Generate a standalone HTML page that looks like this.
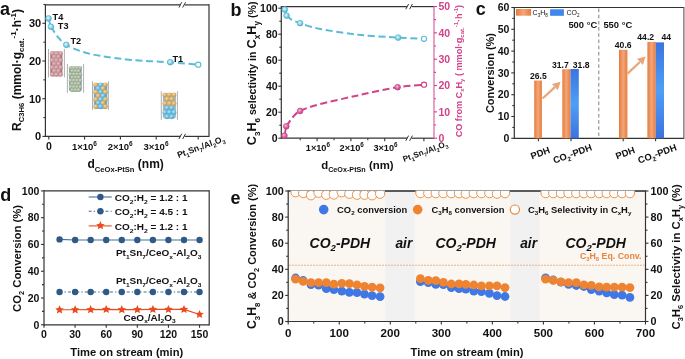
<!DOCTYPE html><html><head><meta charset="utf-8"><style>html,body{margin:0;padding:0;background:#fff;width:685px;height:359px;overflow:hidden}svg{display:block;will-change:transform}text{font-family:"Liberation Sans", sans-serif}</style></head><body>
<svg width="685" height="359" viewBox="0 0 685 359">
<defs>
<radialGradient id="gBlueA" cx="0.42" cy="0.4" r="0.62"><stop offset="0" stop-color="#e2f5fb"/><stop offset="0.5" stop-color="#98d6e9"/><stop offset="0.85" stop-color="#5cbcd7"/><stop offset="1" stop-color="#46abcb"/></radialGradient>
<radialGradient id="gPink" cx="0.4" cy="0.38" r="0.65"><stop offset="0" stop-color="#f4c4da"/><stop offset="0.5" stop-color="#dc6aa4"/><stop offset="1" stop-color="#c83d86"/></radialGradient>
<radialGradient id="bPink" cx="0.4" cy="0.35" r="0.7"><stop offset="0" stop-color="#e6c0c2"/><stop offset="0.6" stop-color="#cc979c"/><stop offset="1" stop-color="#b0808a"/></radialGradient>
<radialGradient id="bGreen" cx="0.4" cy="0.35" r="0.7"><stop offset="0" stop-color="#d6dcc4"/><stop offset="0.6" stop-color="#aab897"/><stop offset="1" stop-color="#7f9c9c"/></radialGradient>
<radialGradient id="bBlue" cx="0.4" cy="0.35" r="0.7"><stop offset="0" stop-color="#bfe6f8"/><stop offset="0.55" stop-color="#66bde6"/><stop offset="1" stop-color="#3e9fd0"/></radialGradient>
<radialGradient id="bOr" cx="0.4" cy="0.35" r="0.7"><stop offset="0" stop-color="#f4d7a4"/><stop offset="0.55" stop-color="#dcae68"/><stop offset="1" stop-color="#c18d45"/></radialGradient>
<linearGradient id="gBarO" x1="0" y1="0" x2="1" y2="0"><stop offset="0" stop-color="#e97c3a"/><stop offset="0.5" stop-color="#f1a67a"/><stop offset="1" stop-color="#e97c3a"/></linearGradient>
<linearGradient id="gBarB" x1="0" y1="0" x2="0" y2="1"><stop offset="0" stop-color="#3a74e0"/><stop offset="0.5" stop-color="#4f9ff6"/><stop offset="1" stop-color="#3a72e0"/></linearGradient>
<clipPath id="clipE"><rect x="288.8" y="191.0" width="356.2" height="130"/></clipPath>
</defs>
<line x1="45.4" y1="4.9" x2="180.3" y2="4.9" stroke="#333333" stroke-width="1.2" />
<line x1="184.7" y1="4.9" x2="209" y2="4.9" stroke="#333333" stroke-width="1.2" />
<line x1="45.4" y1="136.4" x2="180.3" y2="136.4" stroke="#333333" stroke-width="1.2" />
<line x1="184.7" y1="136.4" x2="209" y2="136.4" stroke="#333333" stroke-width="1.2" />
<line x1="45.4" y1="4.3" x2="45.4" y2="137" stroke="#333333" stroke-width="1.2" />
<line x1="209" y1="4.3" x2="209" y2="137" stroke="#333333" stroke-width="1.2" />
<line x1="178.9" y1="7.5" x2="181.7" y2="2.3" stroke="#333333" stroke-width="1" />
<line x1="182.7" y1="7.5" x2="185.5" y2="2.3" stroke="#333333" stroke-width="1" />
<line x1="178.9" y1="139" x2="181.7" y2="133.8" stroke="#333333" stroke-width="1" />
<line x1="182.7" y1="139" x2="185.5" y2="133.8" stroke="#333333" stroke-width="1" />
<line x1="42.4" y1="136.4" x2="45.4" y2="136.4" stroke="#333333" stroke-width="1.1" />
<line x1="43.4" y1="117.55" x2="45.4" y2="117.55" stroke="#333333" stroke-width="1.1" />
<line x1="42.4" y1="98.7" x2="45.4" y2="98.7" stroke="#333333" stroke-width="1.1" />
<line x1="43.4" y1="79.85" x2="45.4" y2="79.85" stroke="#333333" stroke-width="1.1" />
<line x1="42.4" y1="61" x2="45.4" y2="61" stroke="#333333" stroke-width="1.1" />
<line x1="43.4" y1="42.15" x2="45.4" y2="42.15" stroke="#333333" stroke-width="1.1" />
<line x1="42.4" y1="23.3" x2="45.4" y2="23.3" stroke="#333333" stroke-width="1.1" />
<line x1="43.4" y1="4.45" x2="45.4" y2="4.45" stroke="#333333" stroke-width="1.1" />
<text x="41.2" y="140.2" font-size="11" text-anchor="end" fill="#111111" font-weight="bold" style="" >0</text>
<text x="41.2" y="102.5" font-size="11" text-anchor="end" fill="#111111" font-weight="bold" style="" >10</text>
<text x="41.2" y="64.8" font-size="11" text-anchor="end" fill="#111111" font-weight="bold" style="" >20</text>
<text x="41.2" y="27.1" font-size="11" text-anchor="end" fill="#111111" font-weight="bold" style="" >30</text>
<line x1="48.8" y1="136.4" x2="48.8" y2="139.4" stroke="#333333" stroke-width="1.1" />
<line x1="84.6" y1="136.4" x2="84.6" y2="139.4" stroke="#333333" stroke-width="1.1" />
<line x1="120.4" y1="136.4" x2="120.4" y2="139.4" stroke="#333333" stroke-width="1.1" />
<line x1="156.2" y1="136.4" x2="156.2" y2="139.4" stroke="#333333" stroke-width="1.1" />
<line x1="198.2" y1="136.4" x2="198.2" y2="139.4" stroke="#333333" stroke-width="1.1" />
<text x="48.8" y="150" font-size="10.5" text-anchor="middle" fill="#111111" font-weight="bold" style="" >0</text>
<text x="84.4" y="150" font-size="9.5" text-anchor="middle" fill="#111111" font-weight="bold">1×10<tspan font-size="6.5" dy="-4">6</tspan></text>
<text x="120.2" y="150" font-size="9.5" text-anchor="middle" fill="#111111" font-weight="bold">2×10<tspan font-size="6.5" dy="-4">6</tspan></text>
<text x="156" y="150" font-size="9.5" text-anchor="middle" fill="#111111" font-weight="bold">3×10<tspan font-size="6.5" dy="-4">6</tspan></text>
<text x="0" y="0" transform="translate(178.4 158.1) rotate(-20)" font-size="8.6" text-anchor="start" fill="#111111" font-weight="bold" style=""><tspan font-size="8.6" dy="0">Pt</tspan><tspan font-size="5.68" dy="2.41">1</tspan><tspan font-size="8.6" dy="-2.41">Sn</tspan><tspan font-size="5.68" dy="2.41">7</tspan><tspan font-size="8.6" dy="-2.41">/Al</tspan><tspan font-size="5.68" dy="2.41">2</tspan><tspan font-size="8.6" dy="-2.41">O</tspan><tspan font-size="5.68" dy="2.41">3</tspan></text>
<text x="0" y="0" transform="translate(87.5 168.2)" font-size="12" text-anchor="start" fill="#111111" font-weight="bold" style=""><tspan font-size="12" dy="0">d</tspan><tspan font-size="7.6" dy="3.36">CeOx-PtSn</tspan><tspan font-size="12" dy="-3.36"> (nm)</tspan></text>
<text x="0" y="0" transform="translate(21 131) rotate(-90)" font-size="12" text-anchor="start" fill="#111111" font-weight="bold" style=""><tspan font-size="12" dy="0">R</tspan><tspan font-size="7.7" dy="3.36">C3H6</tspan><tspan font-size="12" dy="-3.36"> (mmol·g</tspan><tspan font-size="7.92" dy="3.36">cat.</tspan><tspan font-size="7.92" dy="-7.92">-1</tspan><tspan font-size="12" dy="4.56">·h</tspan><tspan font-size="7.92" dy="-4.56">-1</tspan><tspan font-size="12" dy="4.56">)</tspan></text>
<text x="0" y="15" font-size="18" text-anchor="start" fill="#111111" font-weight="bold" style="" >a</text>
<line x1="48.5" y1="49" x2="48.5" y2="77.4" stroke="#9a9a9a" stroke-width="0.8" />
<line x1="64.4" y1="49" x2="64.4" y2="77.4" stroke="#9a9a9a" stroke-width="0.8" />
<rect x="50.3" y="51.5" width="12.1" height="24.8" rx="2.3" fill="#a4747c"/>
<circle cx="52.1" cy="53.3" r="2.3" fill="url(#bPink)" stroke="none" stroke-width="0" />
<circle cx="56.35" cy="53.3" r="2.3" fill="url(#bPink)" stroke="none" stroke-width="0" />
<circle cx="60.6" cy="53.3" r="2.3" fill="url(#bPink)" stroke="none" stroke-width="0" />
<circle cx="54.22" cy="56.83" r="2.3" fill="url(#bPink)" stroke="none" stroke-width="0" />
<circle cx="58.47" cy="56.83" r="2.3" fill="url(#bPink)" stroke="none" stroke-width="0" />
<circle cx="52.1" cy="60.37" r="2.3" fill="url(#bPink)" stroke="none" stroke-width="0" />
<circle cx="56.35" cy="60.37" r="2.3" fill="url(#bPink)" stroke="none" stroke-width="0" />
<circle cx="60.6" cy="60.37" r="2.3" fill="url(#bPink)" stroke="none" stroke-width="0" />
<circle cx="54.22" cy="63.9" r="2.3" fill="url(#bPink)" stroke="none" stroke-width="0" />
<circle cx="58.47" cy="63.9" r="2.3" fill="url(#bPink)" stroke="none" stroke-width="0" />
<circle cx="52.1" cy="67.43" r="2.3" fill="url(#bPink)" stroke="none" stroke-width="0" />
<circle cx="56.35" cy="67.43" r="2.3" fill="url(#bPink)" stroke="none" stroke-width="0" />
<circle cx="60.6" cy="67.43" r="2.3" fill="url(#bPink)" stroke="none" stroke-width="0" />
<circle cx="54.22" cy="70.97" r="2.3" fill="url(#bPink)" stroke="none" stroke-width="0" />
<circle cx="58.47" cy="70.97" r="2.3" fill="url(#bPink)" stroke="none" stroke-width="0" />
<circle cx="52.1" cy="74.5" r="2.3" fill="url(#bPink)" stroke="none" stroke-width="0" />
<circle cx="56.35" cy="74.5" r="2.3" fill="url(#bPink)" stroke="none" stroke-width="0" />
<circle cx="60.6" cy="74.5" r="2.3" fill="url(#bPink)" stroke="none" stroke-width="0" />
<line x1="67.4" y1="64" x2="67.4" y2="92.8" stroke="#9a9a9a" stroke-width="0.8" />
<line x1="83.6" y1="64" x2="83.6" y2="92.8" stroke="#9a9a9a" stroke-width="0.8" />
<rect x="69.1" y="66.4" width="12.6" height="25" rx="1.9" fill="#7d9fae"/>
<circle cx="70.5" cy="67.8" r="1.9" fill="url(#bGreen)" stroke="none" stroke-width="0" />
<circle cx="73.77" cy="67.8" r="1.9" fill="url(#bGreen)" stroke="none" stroke-width="0" />
<circle cx="77.03" cy="67.8" r="1.9" fill="url(#bGreen)" stroke="none" stroke-width="0" />
<circle cx="80.3" cy="67.8" r="1.9" fill="url(#bGreen)" stroke="none" stroke-width="0" />
<circle cx="72.13" cy="70.97" r="1.9" fill="url(#bGreen)" stroke="none" stroke-width="0" />
<circle cx="75.4" cy="70.97" r="1.9" fill="url(#bGreen)" stroke="none" stroke-width="0" />
<circle cx="78.67" cy="70.97" r="1.9" fill="url(#bGreen)" stroke="none" stroke-width="0" />
<circle cx="70.5" cy="74.14" r="1.9" fill="url(#bGreen)" stroke="none" stroke-width="0" />
<circle cx="73.77" cy="74.14" r="1.9" fill="url(#bGreen)" stroke="none" stroke-width="0" />
<circle cx="77.03" cy="74.14" r="1.9" fill="url(#bGreen)" stroke="none" stroke-width="0" />
<circle cx="80.3" cy="74.14" r="1.9" fill="url(#bGreen)" stroke="none" stroke-width="0" />
<circle cx="72.13" cy="77.31" r="1.9" fill="url(#bGreen)" stroke="none" stroke-width="0" />
<circle cx="75.4" cy="77.31" r="1.9" fill="url(#bGreen)" stroke="none" stroke-width="0" />
<circle cx="78.67" cy="77.31" r="1.9" fill="url(#bGreen)" stroke="none" stroke-width="0" />
<circle cx="70.5" cy="80.49" r="1.9" fill="url(#bGreen)" stroke="none" stroke-width="0" />
<circle cx="73.77" cy="80.49" r="1.9" fill="url(#bGreen)" stroke="none" stroke-width="0" />
<circle cx="77.03" cy="80.49" r="1.9" fill="url(#bGreen)" stroke="none" stroke-width="0" />
<circle cx="80.3" cy="80.49" r="1.9" fill="url(#bGreen)" stroke="none" stroke-width="0" />
<circle cx="72.13" cy="83.66" r="1.9" fill="url(#bGreen)" stroke="none" stroke-width="0" />
<circle cx="75.4" cy="83.66" r="1.9" fill="url(#bGreen)" stroke="none" stroke-width="0" />
<circle cx="78.67" cy="83.66" r="1.9" fill="url(#bGreen)" stroke="none" stroke-width="0" />
<circle cx="70.5" cy="86.83" r="1.9" fill="url(#bGreen)" stroke="none" stroke-width="0" />
<circle cx="73.77" cy="86.83" r="1.9" fill="url(#bGreen)" stroke="none" stroke-width="0" />
<circle cx="77.03" cy="86.83" r="1.9" fill="url(#bGreen)" stroke="none" stroke-width="0" />
<circle cx="80.3" cy="86.83" r="1.9" fill="url(#bGreen)" stroke="none" stroke-width="0" />
<circle cx="72.13" cy="90" r="1.9" fill="url(#bGreen)" stroke="none" stroke-width="0" />
<circle cx="75.4" cy="90" r="1.9" fill="url(#bGreen)" stroke="none" stroke-width="0" />
<circle cx="78.67" cy="90" r="1.9" fill="url(#bGreen)" stroke="none" stroke-width="0" />
<line x1="92.5" y1="81.3" x2="92.5" y2="109.8" stroke="#9a9a9a" stroke-width="0.8" />
<line x1="108.4" y1="81.3" x2="108.4" y2="109.8" stroke="#9a9a9a" stroke-width="0.8" />
<rect x="93.8" y="82.9" width="13.5" height="25.8" rx="2.45" fill="#6aa9c8"/>
<circle cx="95.75" cy="84.85" r="2.45" fill="url(#bOr)" stroke="none" stroke-width="0" />
<circle cx="100.55" cy="84.85" r="2.45" fill="url(#bBlue)" stroke="none" stroke-width="0" />
<circle cx="105.35" cy="84.85" r="2.45" fill="url(#bOr)" stroke="none" stroke-width="0" />
<circle cx="98.15" cy="88.5" r="2.45" fill="url(#bBlue)" stroke="none" stroke-width="0" />
<circle cx="102.95" cy="88.5" r="2.45" fill="url(#bOr)" stroke="none" stroke-width="0" />
<circle cx="95.75" cy="92.15" r="2.45" fill="url(#bOr)" stroke="none" stroke-width="0" />
<circle cx="100.55" cy="92.15" r="2.45" fill="url(#bBlue)" stroke="none" stroke-width="0" />
<circle cx="105.35" cy="92.15" r="2.45" fill="url(#bOr)" stroke="none" stroke-width="0" />
<circle cx="98.15" cy="95.8" r="2.45" fill="url(#bOr)" stroke="none" stroke-width="0" />
<circle cx="102.95" cy="95.8" r="2.45" fill="url(#bBlue)" stroke="none" stroke-width="0" />
<circle cx="95.75" cy="99.45" r="2.45" fill="url(#bOr)" stroke="none" stroke-width="0" />
<circle cx="100.55" cy="99.45" r="2.45" fill="url(#bBlue)" stroke="none" stroke-width="0" />
<circle cx="105.35" cy="99.45" r="2.45" fill="url(#bOr)" stroke="none" stroke-width="0" />
<circle cx="98.15" cy="103.1" r="2.45" fill="url(#bBlue)" stroke="none" stroke-width="0" />
<circle cx="102.95" cy="103.1" r="2.45" fill="url(#bOr)" stroke="none" stroke-width="0" />
<circle cx="95.75" cy="106.75" r="2.45" fill="url(#bOr)" stroke="none" stroke-width="0" />
<circle cx="100.55" cy="106.75" r="2.45" fill="url(#bBlue)" stroke="none" stroke-width="0" />
<circle cx="105.35" cy="106.75" r="2.45" fill="url(#bOr)" stroke="none" stroke-width="0" />
<line x1="161.3" y1="91.3" x2="161.3" y2="119.9" stroke="#9a9a9a" stroke-width="0.8" />
<line x1="177.4" y1="91.3" x2="177.4" y2="119.9" stroke="#9a9a9a" stroke-width="0.8" />
<rect x="162.9" y="92.9" width="13" height="25.8" rx="2.4" fill="#9fb8b8"/>
<circle cx="164.8" cy="94.8" r="2.4" fill="url(#bOr)" stroke="none" stroke-width="0" />
<circle cx="169.4" cy="94.8" r="2.4" fill="url(#bOr)" stroke="none" stroke-width="0" />
<circle cx="174" cy="94.8" r="2.4" fill="url(#bOr)" stroke="none" stroke-width="0" />
<circle cx="167.1" cy="99.2" r="2.4" fill="url(#bOr)" stroke="none" stroke-width="0" />
<circle cx="171.7" cy="99.2" r="2.4" fill="url(#bOr)" stroke="none" stroke-width="0" />
<circle cx="164.8" cy="103.6" r="2.4" fill="url(#bOr)" stroke="none" stroke-width="0" />
<circle cx="169.4" cy="103.6" r="2.4" fill="url(#bOr)" stroke="none" stroke-width="0" />
<circle cx="174" cy="103.6" r="2.4" fill="url(#bOr)" stroke="none" stroke-width="0" />
<circle cx="167.1" cy="108" r="2.4" fill="url(#bBlue)" stroke="none" stroke-width="0" />
<circle cx="171.7" cy="108" r="2.4" fill="url(#bBlue)" stroke="none" stroke-width="0" />
<circle cx="164.8" cy="112.4" r="2.4" fill="url(#bBlue)" stroke="none" stroke-width="0" />
<circle cx="169.4" cy="112.4" r="2.4" fill="url(#bBlue)" stroke="none" stroke-width="0" />
<circle cx="174" cy="112.4" r="2.4" fill="url(#bBlue)" stroke="none" stroke-width="0" />
<circle cx="167.1" cy="116.8" r="2.4" fill="url(#bBlue)" stroke="none" stroke-width="0" />
<circle cx="171.7" cy="116.8" r="2.4" fill="url(#bBlue)" stroke="none" stroke-width="0" />
<path d="M50.9,26.7 C52.08,28.45 55.43,34.18 58,37.2 C60.57,40.22 62.3,42.4 66.3,44.8 C70.3,47.2 76.38,49.77 82,51.6 C87.62,53.43 91.57,54.4 100,55.8 C108.43,57.2 120.9,58.92 132.6,60 C144.3,61.08 159.27,61.52 170.2,62.3 C181.13,63.08 193.53,64.3 198.2,64.7" fill="none" stroke="#5bbcd6" stroke-width="2" stroke-dasharray="7 3.6"/>
<line x1="48.5" y1="18.4" x2="50.9" y2="26.7" stroke="#5bbcd6" stroke-width="1.8" />
<circle cx="48.5" cy="18.4" r="2.9" fill="url(#gBlueA)" stroke="#4fb0cf" stroke-width="0.6" />
<circle cx="50.9" cy="26.7" r="2.9" fill="url(#gBlueA)" stroke="#4fb0cf" stroke-width="0.6" />
<circle cx="66.3" cy="44.8" r="2.9" fill="url(#gBlueA)" stroke="#4fb0cf" stroke-width="0.6" />
<circle cx="170.2" cy="62.2" r="2.9" fill="url(#gBlueA)" stroke="#4fb0cf" stroke-width="0.6" />
<circle cx="198.2" cy="64.7" r="2.6" fill="#ffffff" stroke="#5bbcd6" stroke-width="1.1" />
<text x="52.6" y="20" font-size="9.2" text-anchor="start" fill="#111111" font-weight="bold" style="" >T4</text>
<text x="57.8" y="28.6" font-size="9.2" text-anchor="start" fill="#111111" font-weight="bold" style="" >T3</text>
<text x="70.4" y="44" font-size="9.2" text-anchor="start" fill="#111111" font-weight="bold" style="" >T2</text>
<text x="172.4" y="61.6" font-size="9.2" text-anchor="start" fill="#111111" font-weight="bold" style="" >T1</text>
<line x1="281.3" y1="6.6" x2="407.2" y2="6.6" stroke="#333333" stroke-width="1.2" />
<line x1="411.6" y1="6.6" x2="434" y2="6.6" stroke="#333333" stroke-width="1.2" />
<line x1="281.3" y1="138.2" x2="407.2" y2="138.2" stroke="#333333" stroke-width="1.2" />
<line x1="411.6" y1="138.2" x2="434" y2="138.2" stroke="#333333" stroke-width="1.2" />
<line x1="281.3" y1="6" x2="281.3" y2="138.8" stroke="#333333" stroke-width="1.2" />
<line x1="434" y1="6.6" x2="434" y2="138.8" stroke="#d763a0" stroke-width="1.2" />
<line x1="405.8" y1="9.2" x2="408.6" y2="4" stroke="#333333" stroke-width="1" />
<line x1="409.6" y1="9.2" x2="412.4" y2="4" stroke="#333333" stroke-width="1" />
<line x1="405.8" y1="140.8" x2="408.6" y2="135.6" stroke="#333333" stroke-width="1" />
<line x1="409.6" y1="140.8" x2="412.4" y2="135.6" stroke="#333333" stroke-width="1" />
<line x1="278.3" y1="138.2" x2="281.3" y2="138.2" stroke="#333333" stroke-width="1.1" />
<line x1="279.3" y1="125.2" x2="281.3" y2="125.2" stroke="#333333" stroke-width="1.1" />
<line x1="278.3" y1="112.2" x2="281.3" y2="112.2" stroke="#333333" stroke-width="1.1" />
<line x1="279.3" y1="99.2" x2="281.3" y2="99.2" stroke="#333333" stroke-width="1.1" />
<line x1="278.3" y1="86.2" x2="281.3" y2="86.2" stroke="#333333" stroke-width="1.1" />
<line x1="279.3" y1="73.2" x2="281.3" y2="73.2" stroke="#333333" stroke-width="1.1" />
<line x1="278.3" y1="60.2" x2="281.3" y2="60.2" stroke="#333333" stroke-width="1.1" />
<line x1="279.3" y1="47.2" x2="281.3" y2="47.2" stroke="#333333" stroke-width="1.1" />
<line x1="278.3" y1="34.2" x2="281.3" y2="34.2" stroke="#333333" stroke-width="1.1" />
<line x1="279.3" y1="21.2" x2="281.3" y2="21.2" stroke="#333333" stroke-width="1.1" />
<line x1="278.3" y1="8.2" x2="281.3" y2="8.2" stroke="#333333" stroke-width="1.1" />
<text x="277.6" y="141.9" font-size="10.5" text-anchor="end" fill="#111111" font-weight="bold" style="" >0</text>
<text x="277.6" y="115.9" font-size="10.5" text-anchor="end" fill="#111111" font-weight="bold" style="" >20</text>
<text x="277.6" y="89.9" font-size="10.5" text-anchor="end" fill="#111111" font-weight="bold" style="" >40</text>
<text x="277.6" y="63.9" font-size="10.5" text-anchor="end" fill="#111111" font-weight="bold" style="" >60</text>
<text x="277.6" y="37.9" font-size="10.5" text-anchor="end" fill="#111111" font-weight="bold" style="" >80</text>
<text x="277.6" y="11.9" font-size="10.5" text-anchor="end" fill="#111111" font-weight="bold" style="" >100</text>
<line x1="434" y1="138.2" x2="437" y2="138.2" stroke="#d2418a" stroke-width="1.1" />
<line x1="434" y1="125.03" x2="436" y2="125.03" stroke="#d2418a" stroke-width="1.1" />
<line x1="434" y1="111.86" x2="437" y2="111.86" stroke="#d2418a" stroke-width="1.1" />
<line x1="434" y1="98.69" x2="436" y2="98.69" stroke="#d2418a" stroke-width="1.1" />
<line x1="434" y1="85.52" x2="437" y2="85.52" stroke="#d2418a" stroke-width="1.1" />
<line x1="434" y1="72.35" x2="436" y2="72.35" stroke="#d2418a" stroke-width="1.1" />
<line x1="434" y1="59.18" x2="437" y2="59.18" stroke="#d2418a" stroke-width="1.1" />
<line x1="434" y1="46.01" x2="436" y2="46.01" stroke="#d2418a" stroke-width="1.1" />
<line x1="434" y1="32.84" x2="437" y2="32.84" stroke="#d2418a" stroke-width="1.1" />
<line x1="434" y1="19.67" x2="436" y2="19.67" stroke="#d2418a" stroke-width="1.1" />
<line x1="434" y1="6.5" x2="437" y2="6.5" stroke="#d2418a" stroke-width="1.1" />
<text x="438.4" y="141.9" font-size="10.5" text-anchor="start" fill="#d2418a" font-weight="bold" style="" >0</text>
<text x="438.4" y="115.56" font-size="10.5" text-anchor="start" fill="#d2418a" font-weight="bold" style="" >10</text>
<text x="438.4" y="89.22" font-size="10.5" text-anchor="start" fill="#d2418a" font-weight="bold" style="" >20</text>
<text x="438.4" y="62.88" font-size="10.5" text-anchor="start" fill="#d2418a" font-weight="bold" style="" >30</text>
<text x="438.4" y="36.54" font-size="10.5" text-anchor="start" fill="#d2418a" font-weight="bold" style="" >40</text>
<text x="438.4" y="10.2" font-size="10.5" text-anchor="start" fill="#d2418a" font-weight="bold" style="" >50</text>
<line x1="317.1" y1="138.2" x2="317.1" y2="141.2" stroke="#333333" stroke-width="1.1" />
<line x1="350.9" y1="138.2" x2="350.9" y2="141.2" stroke="#333333" stroke-width="1.1" />
<line x1="384.7" y1="138.2" x2="384.7" y2="141.2" stroke="#333333" stroke-width="1.1" />
<line x1="300.2" y1="138.2" x2="300.2" y2="140.2" stroke="#333333" stroke-width="1.1" />
<line x1="334" y1="138.2" x2="334" y2="140.2" stroke="#333333" stroke-width="1.1" />
<line x1="367.8" y1="138.2" x2="367.8" y2="140.2" stroke="#333333" stroke-width="1.1" />
<line x1="423.9" y1="138.2" x2="423.9" y2="141.2" stroke="#333333" stroke-width="1.1" />
<text x="317.9" y="151.0" font-size="9.2" text-anchor="middle" fill="#111111" font-weight="bold">1×10<tspan font-size="6.3" dy="-4">6</tspan></text>
<text x="351.7" y="151.0" font-size="9.2" text-anchor="middle" fill="#111111" font-weight="bold">2×10<tspan font-size="6.3" dy="-4">6</tspan></text>
<text x="385.5" y="151.0" font-size="9.2" text-anchor="middle" fill="#111111" font-weight="bold">3×10<tspan font-size="6.3" dy="-4">6</tspan></text>
<text x="0" y="0" transform="translate(404 162) rotate(-20)" font-size="8.1" text-anchor="start" fill="#111111" font-weight="bold" style=""><tspan font-size="8.1" dy="0">Pt</tspan><tspan font-size="5.35" dy="2.27">1</tspan><tspan font-size="8.1" dy="-2.27">Sn</tspan><tspan font-size="5.35" dy="2.27">7</tspan><tspan font-size="8.1" dy="-2.27">/Al</tspan><tspan font-size="5.35" dy="2.27">2</tspan><tspan font-size="8.1" dy="-2.27">O</tspan><tspan font-size="5.35" dy="2.27">3</tspan></text>
<text x="0" y="0" transform="translate(321.2 168.5)" font-size="11.4" text-anchor="start" fill="#111111" font-weight="bold" style=""><tspan font-size="11.4" dy="0">d</tspan><tspan font-size="7.2" dy="3.19">CeOx-PtSn</tspan><tspan font-size="11.4" dy="-3.19"> (nm)</tspan></text>
<text x="0" y="0" transform="translate(255.8 145.2) rotate(-90)" font-size="10.6" text-anchor="start" fill="#111111" font-weight="bold" style=""><tspan font-size="12.6" dy="0">C</tspan><tspan font-size="8.06" dy="3.78">3</tspan><tspan font-size="12.6" dy="-3.78">H</tspan><tspan font-size="8.06" dy="3.78">6</tspan><tspan font-size="10.6" dy="-3.78"> selectivity in </tspan><tspan font-size="12.8" dy="0">C</tspan><tspan font-size="8.19" dy="3.84">x</tspan><tspan font-size="12.8" dy="-3.84">H</tspan><tspan font-size="8.19" dy="3.84">y</tspan><tspan font-size="10.6" dy="-3.84"> (%)</tspan></text>
<text x="0" y="0" transform="translate(461.7 137.3) rotate(-90)" font-size="9.1" text-anchor="start" fill="#d2418a" font-weight="bold" style=""><tspan font-size="9.1" dy="0">CO from C</tspan><tspan font-size="6.01" dy="2.55">x</tspan><tspan font-size="9.1" dy="-2.55">H</tspan><tspan font-size="6.01" dy="2.55">y</tspan><tspan font-size="9.1" dy="-2.55"> ( mmol·g</tspan><tspan font-size="6.01" dy="2.55">cat.</tspan><tspan font-size="6.01" dy="-6.01">-1</tspan><tspan font-size="9.1" dy="3.46">·h</tspan><tspan font-size="6.01" dy="-3.46">-1</tspan><tspan font-size="9.1" dy="3.46">)</tspan></text>
<text x="230.6" y="15.5" font-size="18" text-anchor="start" fill="#111111" font-weight="bold" style="" >b</text>
<path d="M286.5,15.6 C287.42,16.3 289.73,18.53 292,19.8 C294.27,21.07 295.6,21.72 300.1,23.2 C304.6,24.68 309.35,26.78 319,28.7 C328.65,30.62 344.82,33.22 358,34.7 C371.18,36.18 387.1,36.92 398.1,37.6 C409.1,38.28 419.68,38.6 424,38.8" fill="none" stroke="#5bbcd6" stroke-width="2" stroke-dasharray="7 3.6"/>
<line x1="284.8" y1="9.5" x2="286.5" y2="15.6" stroke="#5bbcd6" stroke-width="1.8" />
<path d="M286.3,126.3 C287.42,124.75 290.7,119.55 293,117 C295.3,114.45 295.77,113.1 300.1,111 C304.43,108.9 309.35,107 319,104.4 C328.65,101.8 344.9,98.27 358,95.4 C371.1,92.53 386.6,88.98 397.6,87.2 C408.6,85.42 419.6,85.12 424,84.7" fill="none" stroke="#d2418a" stroke-width="2" stroke-dasharray="7 3.6"/>
<line x1="284.4" y1="135.7" x2="286.3" y2="126.3" stroke="#d2418a" stroke-width="1.8" />
<circle cx="284.8" cy="9.5" r="2.9" fill="url(#gBlueA)" stroke="#4fb0cf" stroke-width="0.6" />
<circle cx="286.5" cy="15.6" r="2.9" fill="url(#gBlueA)" stroke="#4fb0cf" stroke-width="0.6" />
<circle cx="300.1" cy="23.2" r="2.9" fill="url(#gBlueA)" stroke="#4fb0cf" stroke-width="0.6" />
<circle cx="398.1" cy="37.6" r="2.9" fill="url(#gBlueA)" stroke="#4fb0cf" stroke-width="0.6" />
<circle cx="424" cy="38.8" r="2.6" fill="#fff" stroke="#5bbcd6" stroke-width="1.1" />
<circle cx="284.4" cy="135.7" r="2.9" fill="url(#gPink)" stroke="#c23a80" stroke-width="0.6" />
<circle cx="286.3" cy="126.3" r="2.9" fill="url(#gPink)" stroke="#c23a80" stroke-width="0.6" />
<circle cx="300.1" cy="111" r="2.9" fill="url(#gPink)" stroke="#c23a80" stroke-width="0.6" />
<circle cx="397.6" cy="87.2" r="2.9" fill="url(#gPink)" stroke="#c23a80" stroke-width="0.6" />
<circle cx="424" cy="84.7" r="2.6" fill="#fff" stroke="#d2418a" stroke-width="1.1" />
<line x1="514.3" y1="7.5" x2="684" y2="7.5" stroke="#333333" stroke-width="1.2" />
<line x1="514.3" y1="138.3" x2="684" y2="138.3" stroke="#333333" stroke-width="1.2" />
<line x1="514.3" y1="6.9" x2="514.3" y2="138.9" stroke="#333333" stroke-width="1.2" />
<line x1="683.9" y1="6.9" x2="683.9" y2="138.9" stroke="#555" stroke-width="1.1" />
<line x1="511.3" y1="138.3" x2="514.3" y2="138.3" stroke="#333333" stroke-width="1.1" />
<line x1="512.3" y1="127.4" x2="514.3" y2="127.4" stroke="#333333" stroke-width="1.1" />
<line x1="511.3" y1="116.5" x2="514.3" y2="116.5" stroke="#333333" stroke-width="1.1" />
<line x1="512.3" y1="105.6" x2="514.3" y2="105.6" stroke="#333333" stroke-width="1.1" />
<line x1="511.3" y1="94.7" x2="514.3" y2="94.7" stroke="#333333" stroke-width="1.1" />
<line x1="512.3" y1="83.8" x2="514.3" y2="83.8" stroke="#333333" stroke-width="1.1" />
<line x1="511.3" y1="72.9" x2="514.3" y2="72.9" stroke="#333333" stroke-width="1.1" />
<line x1="512.3" y1="62" x2="514.3" y2="62" stroke="#333333" stroke-width="1.1" />
<line x1="511.3" y1="51.1" x2="514.3" y2="51.1" stroke="#333333" stroke-width="1.1" />
<line x1="512.3" y1="40.2" x2="514.3" y2="40.2" stroke="#333333" stroke-width="1.1" />
<line x1="511.3" y1="29.3" x2="514.3" y2="29.3" stroke="#333333" stroke-width="1.1" />
<line x1="512.3" y1="18.4" x2="514.3" y2="18.4" stroke="#333333" stroke-width="1.1" />
<line x1="511.3" y1="7.5" x2="514.3" y2="7.5" stroke="#333333" stroke-width="1.1" />
<text x="509.4" y="142" font-size="10.5" text-anchor="end" fill="#111111" font-weight="bold" style="" >0</text>
<text x="509.4" y="120.2" font-size="10.5" text-anchor="end" fill="#111111" font-weight="bold" style="" >10</text>
<text x="509.4" y="98.4" font-size="10.5" text-anchor="end" fill="#111111" font-weight="bold" style="" >20</text>
<text x="509.4" y="76.6" font-size="10.5" text-anchor="end" fill="#111111" font-weight="bold" style="" >30</text>
<text x="509.4" y="54.8" font-size="10.5" text-anchor="end" fill="#111111" font-weight="bold" style="" >40</text>
<text x="509.4" y="33" font-size="10.5" text-anchor="end" fill="#111111" font-weight="bold" style="" >50</text>
<text x="509.4" y="11.2" font-size="10.5" text-anchor="end" fill="#111111" font-weight="bold" style="" >60</text>
<line x1="538.4" y1="138.3" x2="538.4" y2="141.3" stroke="#333333" stroke-width="1.1" />
<line x1="571" y1="138.3" x2="571" y2="141.3" stroke="#333333" stroke-width="1.1" />
<line x1="623.2" y1="138.3" x2="623.2" y2="141.3" stroke="#333333" stroke-width="1.1" />
<line x1="655.6" y1="138.3" x2="655.6" y2="141.3" stroke="#333333" stroke-width="1.1" />
<line x1="598.8" y1="8.5" x2="598.8" y2="138.3" stroke="#808080" stroke-width="1" stroke-dasharray="3.6 2.6"/>
<rect x="534.2" y="80.53" width="7.7" height="57.77" fill="url(#gBarO)"/>
<rect x="562.3" y="69.19" width="8.2" height="69.11" fill="url(#gBarO)"/>
<rect x="570.5" y="68.98" width="8.3" height="69.32" fill="url(#gBarB)"/>
<rect x="619" y="49.79" width="8.4" height="88.51" fill="url(#gBarO)"/>
<rect x="647.4" y="41.94" width="8.4" height="96.36" fill="url(#gBarO)"/>
<rect x="655.8" y="42.38" width="8.2" height="95.92" fill="url(#gBarB)"/>
<text x="538.4" y="78.8" font-size="8.6" text-anchor="middle" fill="#111111" font-weight="bold" style="" >26.5</text>
<text x="560.4" y="67.6" font-size="8.6" text-anchor="middle" fill="#111111" font-weight="bold" style="" >31.7</text>
<text x="581.2" y="67.6" font-size="8.6" text-anchor="middle" fill="#111111" font-weight="bold" style="" >31.8</text>
<text x="623.2" y="48.2" font-size="8.6" text-anchor="middle" fill="#111111" font-weight="bold" style="" >40.6</text>
<text x="645.7" y="39.8" font-size="8.6" text-anchor="middle" fill="#111111" font-weight="bold" style="" >44.2</text>
<text x="666.2" y="40.4" font-size="8.6" text-anchor="middle" fill="#111111" font-weight="bold" style="" >44</text>
<line x1="542.6" y1="98.5" x2="554.88" y2="87.11" stroke="#e9a678" stroke-width="2.2"/>
<polygon points="560.6,81.8 557.81,90.26 551.96,83.95" fill="#e9a678"/>
<line x1="627.5" y1="73.6" x2="639.91" y2="61.94" stroke="#e9a678" stroke-width="2.2"/>
<polygon points="645.6,56.6 642.86,65.07 636.97,58.81" fill="#e9a678"/>
<rect x="516.0" y="9.0" width="15.1" height="6.7" fill="url(#gBarO)"/>
<text x="0" y="0" transform="translate(532.6 15)" font-size="7.0" text-anchor="start" fill="#111111" font-weight="normal" style=""><tspan font-size="7" dy="0">C</tspan><tspan font-size="4.62" dy="1.96">3</tspan><tspan font-size="7" dy="-1.96">H</tspan><tspan font-size="4.62" dy="1.96">8</tspan></text>
<rect x="550.1" y="9.3" width="13.8" height="6.5" fill="#3f86ee"/>
<text x="0" y="0" transform="translate(566.4 15.2)" font-size="7.0" text-anchor="start" fill="#111111" font-weight="normal" style=""><tspan font-size="7" dy="0">CO</tspan><tspan font-size="4.62" dy="1.96">2</tspan></text>
<text x="568.4" y="28.4" font-size="9.4" text-anchor="start" fill="#111111" font-weight="bold" style="" >500 °C</text>
<text x="603.4" y="28.4" font-size="9.4" text-anchor="start" fill="#111111" font-weight="bold" style="" >550 °C</text>
<text x="0" y="0" transform="translate(541.3 156) rotate(-20)" font-size="9.4" text-anchor="middle" fill="#111111" font-weight="bold" style=""><tspan font-size="9.4" dy="0">PDH</tspan></text>
<text x="0" y="0" transform="translate(573.5 156.8) rotate(-20)" font-size="9.4" text-anchor="middle" fill="#111111" font-weight="bold" style=""><tspan font-size="9.4" dy="0">CO</tspan><tspan font-size="6.2" dy="2.63">2</tspan><tspan font-size="9.4" dy="-2.63">-PDH</tspan></text>
<text x="0" y="0" transform="translate(626.3 156) rotate(-20)" font-size="9.4" text-anchor="middle" fill="#111111" font-weight="bold" style=""><tspan font-size="9.4" dy="0">PDH</tspan></text>
<text x="0" y="0" transform="translate(658.3 156.8) rotate(-20)" font-size="9.4" text-anchor="middle" fill="#111111" font-weight="bold" style=""><tspan font-size="9.4" dy="0">CO</tspan><tspan font-size="6.2" dy="2.63">2</tspan><tspan font-size="9.4" dy="-2.63">-PDH</tspan></text>
<text x="0" y="0" transform="translate(494.2 113) rotate(-90)" font-size="10.9" text-anchor="start" fill="#111111" font-weight="bold" style=""><tspan font-size="10.9" dy="0">Conversion (%)</tspan></text>
<text x="475.8" y="15" font-size="18" text-anchor="start" fill="#111111" font-weight="bold" style="" >c</text>
<line x1="44" y1="190.9" x2="209.2" y2="190.9" stroke="#333333" stroke-width="1.2" />
<line x1="44" y1="324.8" x2="209.2" y2="324.8" stroke="#333333" stroke-width="1.2" />
<line x1="44" y1="190.3" x2="44" y2="325.4" stroke="#333333" stroke-width="1.2" />
<line x1="209.2" y1="190.3" x2="209.2" y2="325.4" stroke="#333333" stroke-width="1.2" />
<line x1="41" y1="324.8" x2="44" y2="324.8" stroke="#333333" stroke-width="1.1" />
<line x1="42" y1="311.41" x2="44" y2="311.41" stroke="#333333" stroke-width="1.1" />
<line x1="41" y1="298.02" x2="44" y2="298.02" stroke="#333333" stroke-width="1.1" />
<line x1="42" y1="284.63" x2="44" y2="284.63" stroke="#333333" stroke-width="1.1" />
<line x1="41" y1="271.24" x2="44" y2="271.24" stroke="#333333" stroke-width="1.1" />
<line x1="42" y1="257.85" x2="44" y2="257.85" stroke="#333333" stroke-width="1.1" />
<line x1="41" y1="244.46" x2="44" y2="244.46" stroke="#333333" stroke-width="1.1" />
<line x1="42" y1="231.07" x2="44" y2="231.07" stroke="#333333" stroke-width="1.1" />
<line x1="41" y1="217.68" x2="44" y2="217.68" stroke="#333333" stroke-width="1.1" />
<line x1="42" y1="204.29" x2="44" y2="204.29" stroke="#333333" stroke-width="1.1" />
<line x1="41" y1="190.9" x2="44" y2="190.9" stroke="#333333" stroke-width="1.1" />
<text x="39.4" y="328.5" font-size="10.5" text-anchor="end" fill="#111111" font-weight="bold" style="" >0</text>
<text x="39.4" y="301.72" font-size="10.5" text-anchor="end" fill="#111111" font-weight="bold" style="" >20</text>
<text x="39.4" y="274.94" font-size="10.5" text-anchor="end" fill="#111111" font-weight="bold" style="" >40</text>
<text x="39.4" y="248.16" font-size="10.5" text-anchor="end" fill="#111111" font-weight="bold" style="" >60</text>
<text x="39.4" y="221.38" font-size="10.5" text-anchor="end" fill="#111111" font-weight="bold" style="" >80</text>
<text x="39.4" y="194.6" font-size="10.5" text-anchor="end" fill="#111111" font-weight="bold" style="" >100</text>
<line x1="44" y1="324.8" x2="44" y2="327.8" stroke="#333333" stroke-width="1.1" />
<line x1="75.11" y1="324.8" x2="75.11" y2="327.8" stroke="#333333" stroke-width="1.1" />
<line x1="106.22" y1="324.8" x2="106.22" y2="327.8" stroke="#333333" stroke-width="1.1" />
<line x1="137.33" y1="324.8" x2="137.33" y2="327.8" stroke="#333333" stroke-width="1.1" />
<line x1="168.44" y1="324.8" x2="168.44" y2="327.8" stroke="#333333" stroke-width="1.1" />
<line x1="199.55" y1="324.8" x2="199.55" y2="327.8" stroke="#333333" stroke-width="1.1" />
<text x="44" y="337.8" font-size="10.5" text-anchor="middle" fill="#111111" font-weight="bold" style="" >0</text>
<text x="75.11" y="337.8" font-size="10.5" text-anchor="middle" fill="#111111" font-weight="bold" style="" >30</text>
<text x="106.22" y="337.8" font-size="10.5" text-anchor="middle" fill="#111111" font-weight="bold" style="" >60</text>
<text x="137.33" y="337.8" font-size="10.5" text-anchor="middle" fill="#111111" font-weight="bold" style="" >90</text>
<text x="168.44" y="337.8" font-size="10.5" text-anchor="middle" fill="#111111" font-weight="bold" style="" >120</text>
<text x="199.55" y="337.8" font-size="10.5" text-anchor="middle" fill="#111111" font-weight="bold" style="" >150</text>
<text x="0" y="0" transform="translate(70.3 356.2)" font-size="11.2" text-anchor="start" fill="#111111" font-weight="bold" style=""><tspan font-size="11.2" dy="0">Time on stream (min)</tspan></text>
<text x="0" y="0" transform="translate(20.8 312) rotate(-90)" font-size="11.3" text-anchor="start" fill="#111111" font-weight="bold" style=""><tspan font-size="11.3" dy="0">CO</tspan><tspan font-size="7.46" dy="3.16">2</tspan><tspan font-size="11.3" dy="-3.16"> Conversion (%)</tspan></text>
<text x="0.3" y="200.6" font-size="18" text-anchor="start" fill="#111111" font-weight="bold" style="" >d</text>
<line x1="88.7" y1="197" x2="111.7" y2="197" stroke="#4a6f96" stroke-width="1.1" />
<circle cx="100.4" cy="197" r="3.2" fill="#2f5a86" stroke="none" stroke-width="0" />
<line x1="88.7" y1="211.2" x2="111.7" y2="211.2" stroke="#4a6f96" stroke-width="1.1" stroke-dasharray="3 2 1.4 2"/>
<circle cx="100.4" cy="211.2" r="3.2" fill="#2f5a86" stroke="none" stroke-width="0" />
<line x1="88.7" y1="225.9" x2="111.7" y2="225.9" stroke="#e94b1f" stroke-width="1.1" />
<polygon points="100.4,221.1 101.64,223.89 104.68,224.21 102.41,226.25 103.05,229.24 100.4,227.72 97.75,229.24 98.39,226.25 96.12,224.21 99.16,223.89" fill="#e94b1f"/>
<text x="0" y="0" transform="translate(114.7 201) scale(1 0.92)" font-size="10.0" text-anchor="start" fill="#111111" font-weight="bold" style=""><tspan font-size="10" dy="0">CO</tspan><tspan font-size="6.78" dy="3.18">2</tspan><tspan font-size="10" dy="-3.18">:H</tspan><tspan font-size="6.78" dy="3.18">2</tspan><tspan font-size="10" dy="-3.18"> = 1.2 : 1</tspan></text>
<text x="0" y="0" transform="translate(114.7 215.2) scale(1 0.92)" font-size="10.0" text-anchor="start" fill="#111111" font-weight="bold" style=""><tspan font-size="10" dy="0">CO</tspan><tspan font-size="6.78" dy="3.18">2</tspan><tspan font-size="10" dy="-3.18">:H</tspan><tspan font-size="6.78" dy="3.18">2</tspan><tspan font-size="10" dy="-3.18"> = 4.5 : 1</tspan></text>
<text x="0" y="0" transform="translate(114.7 229.9) scale(1 0.92)" font-size="10.0" text-anchor="start" fill="#111111" font-weight="bold" style=""><tspan font-size="10" dy="0">CO</tspan><tspan font-size="6.78" dy="3.18">2</tspan><tspan font-size="10" dy="-3.18">:H</tspan><tspan font-size="6.78" dy="3.18">2</tspan><tspan font-size="10" dy="-3.18"> = 1.2 : 1</tspan></text>
<polyline points="59.55,239.4 75.11,240 90.66,240 106.22,240 121.77,240 137.33,240 152.88,240 168.44,240 183.99,240 199.55,240" fill="none" stroke="#4a6f96" stroke-width="1.1"/>
<circle cx="59.55" cy="239.4" r="3.2" fill="#2f5a86" stroke="none" stroke-width="0" />
<circle cx="75.11" cy="240" r="3.2" fill="#2f5a86" stroke="none" stroke-width="0" />
<circle cx="90.66" cy="240" r="3.2" fill="#2f5a86" stroke="none" stroke-width="0" />
<circle cx="106.22" cy="240" r="3.2" fill="#2f5a86" stroke="none" stroke-width="0" />
<circle cx="121.77" cy="240" r="3.2" fill="#2f5a86" stroke="none" stroke-width="0" />
<circle cx="137.33" cy="240" r="3.2" fill="#2f5a86" stroke="none" stroke-width="0" />
<circle cx="152.88" cy="240" r="3.2" fill="#2f5a86" stroke="none" stroke-width="0" />
<circle cx="168.44" cy="240" r="3.2" fill="#2f5a86" stroke="none" stroke-width="0" />
<circle cx="183.99" cy="240" r="3.2" fill="#2f5a86" stroke="none" stroke-width="0" />
<circle cx="199.55" cy="240" r="3.2" fill="#2f5a86" stroke="none" stroke-width="0" />
<polyline points="59.55,292 75.11,292 90.66,292 106.22,292 121.77,292 137.33,292 152.88,292 168.44,292 183.99,292 199.55,292" fill="none" stroke="#4a6f96" stroke-width="1.1" stroke-dasharray="3 2 1.4 2"/>
<circle cx="59.55" cy="292" r="3.2" fill="#2f5a86" stroke="none" stroke-width="0" />
<circle cx="75.11" cy="292" r="3.2" fill="#2f5a86" stroke="none" stroke-width="0" />
<circle cx="90.66" cy="292" r="3.2" fill="#2f5a86" stroke="none" stroke-width="0" />
<circle cx="106.22" cy="292" r="3.2" fill="#2f5a86" stroke="none" stroke-width="0" />
<circle cx="121.77" cy="292" r="3.2" fill="#2f5a86" stroke="none" stroke-width="0" />
<circle cx="137.33" cy="292" r="3.2" fill="#2f5a86" stroke="none" stroke-width="0" />
<circle cx="152.88" cy="292" r="3.2" fill="#2f5a86" stroke="none" stroke-width="0" />
<circle cx="168.44" cy="292" r="3.2" fill="#2f5a86" stroke="none" stroke-width="0" />
<circle cx="183.99" cy="292" r="3.2" fill="#2f5a86" stroke="none" stroke-width="0" />
<circle cx="199.55" cy="292" r="3.2" fill="#2f5a86" stroke="none" stroke-width="0" />
<polyline points="59.55,309.8 75.11,309.8 90.66,309.6 106.22,309.4 121.77,309.6 137.33,309.6 152.88,309.4 168.44,309.4 183.99,309.4 199.55,314.4" fill="none" stroke="#e94b1f" stroke-width="1.1"/>
<polygon points="59.55,305.3 60.8,308.09 63.83,308.41 61.57,310.45 62.2,313.44 59.55,311.92 56.91,313.44 57.54,310.45 55.28,308.41 58.31,308.09" fill="#e94b1f"/>
<polygon points="75.11,305.3 76.35,308.09 79.39,308.41 77.12,310.45 77.76,313.44 75.11,311.92 72.46,313.44 73.1,310.45 70.83,308.41 73.87,308.09" fill="#e94b1f"/>
<polygon points="90.66,305.1 91.91,307.89 94.94,308.21 92.68,310.25 93.31,313.24 90.66,311.72 88.02,313.24 88.65,310.25 86.39,308.21 89.42,307.89" fill="#e94b1f"/>
<polygon points="106.22,304.9 107.46,307.69 110.5,308.01 108.23,310.05 108.87,313.04 106.22,311.51 103.57,313.04 104.21,310.05 101.94,308.01 104.98,307.69" fill="#e94b1f"/>
<polygon points="121.77,305.1 123.02,307.89 126.05,308.21 123.79,310.25 124.42,313.24 121.77,311.72 119.13,313.24 119.76,310.25 117.5,308.21 120.53,307.89" fill="#e94b1f"/>
<polygon points="137.33,305.1 138.57,307.89 141.61,308.21 139.34,310.25 139.98,313.24 137.33,311.72 134.68,313.24 135.32,310.25 133.05,308.21 136.09,307.89" fill="#e94b1f"/>
<polygon points="152.88,304.9 154.13,307.69 157.16,308.01 154.9,310.05 155.53,313.04 152.88,311.51 150.24,313.04 150.87,310.05 148.61,308.01 151.64,307.69" fill="#e94b1f"/>
<polygon points="168.44,304.9 169.68,307.69 172.72,308.01 170.45,310.05 171.09,313.04 168.44,311.51 165.79,313.04 166.43,310.05 164.16,308.01 167.2,307.69" fill="#e94b1f"/>
<polygon points="183.99,304.9 185.24,307.69 188.27,308.01 186.01,310.05 186.64,313.04 183.99,311.51 181.35,313.04 181.98,310.05 179.72,308.01 182.75,307.69" fill="#e94b1f"/>
<polygon points="199.55,309.9 200.79,312.69 203.83,313.01 201.56,315.05 202.2,318.04 199.55,316.51 196.9,318.04 197.54,315.05 195.27,313.01 198.31,312.69" fill="#e94b1f"/>
<text x="0" y="0" transform="translate(115.9 256.3) scale(1 0.92)" font-size="10.0" text-anchor="start" fill="#111111" font-weight="bold" style=""><tspan font-size="10" dy="0">Pt</tspan><tspan font-size="6.6" dy="2.8">1</tspan><tspan font-size="10" dy="-2.8">Sn</tspan><tspan font-size="6.6" dy="2.8">7</tspan><tspan font-size="10" dy="-2.8">/CeO</tspan><tspan font-size="6.6" dy="2.8">x</tspan><tspan font-size="10" dy="-2.8">-Al</tspan><tspan font-size="6.6" dy="2.8">2</tspan><tspan font-size="10" dy="-2.8">O</tspan><tspan font-size="6.6" dy="2.8">3</tspan></text>
<text x="0" y="0" transform="translate(115.9 284.2) scale(1 0.92)" font-size="10.0" text-anchor="start" fill="#111111" font-weight="bold" style=""><tspan font-size="10" dy="0">Pt</tspan><tspan font-size="6.6" dy="2.8">1</tspan><tspan font-size="10" dy="-2.8">Sn</tspan><tspan font-size="6.6" dy="2.8">7</tspan><tspan font-size="10" dy="-2.8">/CeO</tspan><tspan font-size="6.6" dy="2.8">x</tspan><tspan font-size="10" dy="-2.8">-Al</tspan><tspan font-size="6.6" dy="2.8">2</tspan><tspan font-size="10" dy="-2.8">O</tspan><tspan font-size="6.6" dy="2.8">3</tspan></text>
<text x="0" y="0" transform="translate(123.6 320.5) scale(1 0.92)" font-size="10.0" text-anchor="start" fill="#111111" font-weight="bold" style=""><tspan font-size="10" dy="0">CeO</tspan><tspan font-size="6.6" dy="2.8">x</tspan><tspan font-size="10" dy="-2.8">/Al</tspan><tspan font-size="6.6" dy="2.8">2</tspan><tspan font-size="10" dy="-2.8">O</tspan><tspan font-size="6.6" dy="2.8">3</tspan></text>
<rect x="288.2" y="191" width="357.3" height="130.5" fill="#faf7f3"/>
<rect x="385.2" y="191" width="29.6" height="130.5" fill="#f1f1f2"/>
<rect x="510.3" y="191" width="25.9" height="130.5" fill="#f1f1f2"/>
<rect x="536.2" y="191" width="3.1" height="130.5" fill="#f2efec"/>
<line x1="288.2" y1="191" x2="645.5" y2="191" stroke="#262626" stroke-width="1.4" />
<rect x="290.5" y="190.9" width="94.5" height="1.0" fill="#ffffff"/>
<line x1="290.5" y1="190.65" x2="385" y2="190.65" stroke="#e2e2e2" stroke-width="0.5" />
<rect x="415.6" y="190.9" width="94.2" height="1.0" fill="#ffffff"/>
<line x1="415.6" y1="190.65" x2="509.8" y2="190.65" stroke="#e2e2e2" stroke-width="0.5" />
<rect x="540.8" y="190.9" width="94" height="1.0" fill="#ffffff"/>
<line x1="540.8" y1="190.65" x2="634.8" y2="190.65" stroke="#e2e2e2" stroke-width="0.5" />
<line x1="289.2" y1="265.25" x2="644.5" y2="265.25" stroke="#f0a060" stroke-width="1.0" stroke-dasharray="1.6 1.4"/>
<g clip-path="url(#clipE)">
<circle cx="295.6" cy="278" r="4.4" fill="#3f78e4" stroke="none" stroke-width="0" />
<circle cx="303.2" cy="280.5" r="4.4" fill="#3f78e4" stroke="none" stroke-width="0" />
<circle cx="311" cy="284.7" r="4.4" fill="#3f78e4" stroke="none" stroke-width="0" />
<circle cx="318.6" cy="285.2" r="4.4" fill="#3f78e4" stroke="none" stroke-width="0" />
<circle cx="326.3" cy="288.7" r="4.4" fill="#3f78e4" stroke="none" stroke-width="0" />
<circle cx="333.9" cy="289.6" r="4.4" fill="#3f78e4" stroke="none" stroke-width="0" />
<circle cx="341.8" cy="291.1" r="4.4" fill="#3f78e4" stroke="none" stroke-width="0" />
<circle cx="349.4" cy="292.4" r="4.4" fill="#3f78e4" stroke="none" stroke-width="0" />
<circle cx="357" cy="292.6" r="4.4" fill="#3f78e4" stroke="none" stroke-width="0" />
<circle cx="364.5" cy="294.1" r="4.4" fill="#3f78e4" stroke="none" stroke-width="0" />
<circle cx="372.1" cy="295.6" r="4.4" fill="#3f78e4" stroke="none" stroke-width="0" />
<circle cx="380.1" cy="296.6" r="4.4" fill="#3f78e4" stroke="none" stroke-width="0" />
<circle cx="295.6" cy="279.2" r="4.4" fill="#ee8432" stroke="none" stroke-width="0" />
<circle cx="303.2" cy="281.4" r="4.4" fill="#ee8432" stroke="none" stroke-width="0" />
<circle cx="311" cy="282.7" r="4.4" fill="#ee8432" stroke="none" stroke-width="0" />
<circle cx="318.6" cy="282.7" r="4.4" fill="#ee8432" stroke="none" stroke-width="0" />
<circle cx="326.3" cy="282.7" r="4.4" fill="#ee8432" stroke="none" stroke-width="0" />
<circle cx="333.9" cy="284.1" r="4.4" fill="#ee8432" stroke="none" stroke-width="0" />
<circle cx="341.8" cy="283.4" r="4.4" fill="#ee8432" stroke="none" stroke-width="0" />
<circle cx="349.4" cy="283.6" r="4.4" fill="#ee8432" stroke="none" stroke-width="0" />
<circle cx="357" cy="284.8" r="4.4" fill="#ee8432" stroke="none" stroke-width="0" />
<circle cx="364.5" cy="286.3" r="4.4" fill="#ee8432" stroke="none" stroke-width="0" />
<circle cx="372.1" cy="287.2" r="4.4" fill="#ee8432" stroke="none" stroke-width="0" />
<circle cx="380.1" cy="287.8" r="4.4" fill="#ee8432" stroke="none" stroke-width="0" />
<circle cx="295.6" cy="192.2" r="4.7" fill="#fff" stroke="#e8893a" stroke-width="0.9" />
<circle cx="303.2" cy="193" r="4.7" fill="#fff" stroke="#e8893a" stroke-width="0.9" />
<circle cx="311" cy="195.2" r="4.7" fill="#fff" stroke="#e8893a" stroke-width="0.9" />
<circle cx="318.6" cy="192.7" r="4.7" fill="#fff" stroke="#e8893a" stroke-width="0.9" />
<circle cx="326.3" cy="194.7" r="4.7" fill="#fff" stroke="#e8893a" stroke-width="0.9" />
<circle cx="333.9" cy="194.4" r="4.7" fill="#fff" stroke="#e8893a" stroke-width="0.9" />
<circle cx="341.8" cy="192.2" r="4.7" fill="#fff" stroke="#e8893a" stroke-width="0.9" />
<circle cx="349.4" cy="193.7" r="4.7" fill="#fff" stroke="#e8893a" stroke-width="0.9" />
<circle cx="357" cy="194.7" r="4.7" fill="#fff" stroke="#e8893a" stroke-width="0.9" />
<circle cx="364.5" cy="194.7" r="4.7" fill="#fff" stroke="#e8893a" stroke-width="0.9" />
<circle cx="372.1" cy="195.2" r="4.7" fill="#fff" stroke="#e8893a" stroke-width="0.9" />
<circle cx="380.1" cy="193.7" r="4.7" fill="#fff" stroke="#e8893a" stroke-width="0.9" />
<circle cx="420.4" cy="281.6" r="4.4" fill="#3f78e4" stroke="none" stroke-width="0" />
<circle cx="428.3" cy="282.7" r="4.4" fill="#3f78e4" stroke="none" stroke-width="0" />
<circle cx="435.8" cy="284.4" r="4.4" fill="#3f78e4" stroke="none" stroke-width="0" />
<circle cx="443.4" cy="284.6" r="4.4" fill="#3f78e4" stroke="none" stroke-width="0" />
<circle cx="451.3" cy="287.6" r="4.4" fill="#3f78e4" stroke="none" stroke-width="0" />
<circle cx="459" cy="288.7" r="4.4" fill="#3f78e4" stroke="none" stroke-width="0" />
<circle cx="465.8" cy="289.1" r="4.4" fill="#3f78e4" stroke="none" stroke-width="0" />
<circle cx="473.8" cy="291.1" r="4.4" fill="#3f78e4" stroke="none" stroke-width="0" />
<circle cx="481.4" cy="291.6" r="4.4" fill="#3f78e4" stroke="none" stroke-width="0" />
<circle cx="489.4" cy="293.4" r="4.4" fill="#3f78e4" stroke="none" stroke-width="0" />
<circle cx="497" cy="295.6" r="4.4" fill="#3f78e4" stroke="none" stroke-width="0" />
<circle cx="505" cy="296.5" r="4.4" fill="#3f78e4" stroke="none" stroke-width="0" />
<circle cx="420.4" cy="278.6" r="4.4" fill="#ee8432" stroke="none" stroke-width="0" />
<circle cx="428.3" cy="280.3" r="4.4" fill="#ee8432" stroke="none" stroke-width="0" />
<circle cx="435.8" cy="280.7" r="4.4" fill="#ee8432" stroke="none" stroke-width="0" />
<circle cx="443.4" cy="282.3" r="4.4" fill="#ee8432" stroke="none" stroke-width="0" />
<circle cx="451.3" cy="284" r="4.4" fill="#ee8432" stroke="none" stroke-width="0" />
<circle cx="459" cy="283.9" r="4.4" fill="#ee8432" stroke="none" stroke-width="0" />
<circle cx="465.8" cy="284.3" r="4.4" fill="#ee8432" stroke="none" stroke-width="0" />
<circle cx="473.8" cy="285" r="4.4" fill="#ee8432" stroke="none" stroke-width="0" />
<circle cx="481.4" cy="285.9" r="4.4" fill="#ee8432" stroke="none" stroke-width="0" />
<circle cx="489.4" cy="285.9" r="4.4" fill="#ee8432" stroke="none" stroke-width="0" />
<circle cx="497" cy="285.9" r="4.4" fill="#ee8432" stroke="none" stroke-width="0" />
<circle cx="505" cy="287.6" r="4.4" fill="#ee8432" stroke="none" stroke-width="0" />
<circle cx="420.4" cy="193.1" r="4.7" fill="#fff" stroke="#e8893a" stroke-width="0.9" />
<circle cx="428.3" cy="193.1" r="4.7" fill="#fff" stroke="#e8893a" stroke-width="0.9" />
<circle cx="435.8" cy="193.1" r="4.7" fill="#fff" stroke="#e8893a" stroke-width="0.9" />
<circle cx="443.4" cy="193.1" r="4.7" fill="#fff" stroke="#e8893a" stroke-width="0.9" />
<circle cx="451.3" cy="193.1" r="4.7" fill="#fff" stroke="#e8893a" stroke-width="0.9" />
<circle cx="459" cy="193.1" r="4.7" fill="#fff" stroke="#e8893a" stroke-width="0.9" />
<circle cx="465.8" cy="193.6" r="4.7" fill="#fff" stroke="#e8893a" stroke-width="0.9" />
<circle cx="473.8" cy="193.1" r="4.7" fill="#fff" stroke="#e8893a" stroke-width="0.9" />
<circle cx="481.4" cy="193.1" r="4.7" fill="#fff" stroke="#e8893a" stroke-width="0.9" />
<circle cx="489.4" cy="193.1" r="4.7" fill="#fff" stroke="#e8893a" stroke-width="0.9" />
<circle cx="497" cy="193.6" r="4.7" fill="#fff" stroke="#e8893a" stroke-width="0.9" />
<circle cx="505" cy="193.1" r="4.7" fill="#fff" stroke="#e8893a" stroke-width="0.9" />
<circle cx="545.6" cy="277.8" r="4.4" fill="#3f78e4" stroke="none" stroke-width="0" />
<circle cx="553.2" cy="280" r="4.4" fill="#3f78e4" stroke="none" stroke-width="0" />
<circle cx="561" cy="282.2" r="4.4" fill="#3f78e4" stroke="none" stroke-width="0" />
<circle cx="568.6" cy="284.3" r="4.4" fill="#3f78e4" stroke="none" stroke-width="0" />
<circle cx="576.3" cy="285.5" r="4.4" fill="#3f78e4" stroke="none" stroke-width="0" />
<circle cx="583.9" cy="286.5" r="4.4" fill="#3f78e4" stroke="none" stroke-width="0" />
<circle cx="591.3" cy="289.6" r="4.4" fill="#3f78e4" stroke="none" stroke-width="0" />
<circle cx="599.2" cy="291.1" r="4.4" fill="#3f78e4" stroke="none" stroke-width="0" />
<circle cx="606.7" cy="292.9" r="4.4" fill="#3f78e4" stroke="none" stroke-width="0" />
<circle cx="614.3" cy="294.7" r="4.4" fill="#3f78e4" stroke="none" stroke-width="0" />
<circle cx="622.1" cy="295.1" r="4.4" fill="#3f78e4" stroke="none" stroke-width="0" />
<circle cx="629.9" cy="297.4" r="4.4" fill="#3f78e4" stroke="none" stroke-width="0" />
<circle cx="545.6" cy="279.2" r="4.4" fill="#ee8432" stroke="none" stroke-width="0" />
<circle cx="553.2" cy="280.3" r="4.4" fill="#ee8432" stroke="none" stroke-width="0" />
<circle cx="561" cy="281.9" r="4.4" fill="#ee8432" stroke="none" stroke-width="0" />
<circle cx="568.6" cy="282.7" r="4.4" fill="#ee8432" stroke="none" stroke-width="0" />
<circle cx="576.3" cy="282.7" r="4.4" fill="#ee8432" stroke="none" stroke-width="0" />
<circle cx="583.9" cy="284.8" r="4.4" fill="#ee8432" stroke="none" stroke-width="0" />
<circle cx="591.3" cy="285.4" r="4.4" fill="#ee8432" stroke="none" stroke-width="0" />
<circle cx="599.2" cy="286.8" r="4.4" fill="#ee8432" stroke="none" stroke-width="0" />
<circle cx="606.7" cy="287.2" r="4.4" fill="#ee8432" stroke="none" stroke-width="0" />
<circle cx="614.3" cy="287.2" r="4.4" fill="#ee8432" stroke="none" stroke-width="0" />
<circle cx="622.1" cy="287.2" r="4.4" fill="#ee8432" stroke="none" stroke-width="0" />
<circle cx="629.9" cy="287.6" r="4.4" fill="#ee8432" stroke="none" stroke-width="0" />
<circle cx="545.6" cy="193.1" r="4.7" fill="#fff" stroke="#e8893a" stroke-width="0.9" />
<circle cx="553.2" cy="193.1" r="4.7" fill="#fff" stroke="#e8893a" stroke-width="0.9" />
<circle cx="561" cy="193.1" r="4.7" fill="#fff" stroke="#e8893a" stroke-width="0.9" />
<circle cx="568.6" cy="193.1" r="4.7" fill="#fff" stroke="#e8893a" stroke-width="0.9" />
<circle cx="576.3" cy="193.1" r="4.7" fill="#fff" stroke="#e8893a" stroke-width="0.9" />
<circle cx="583.9" cy="193.1" r="4.7" fill="#fff" stroke="#e8893a" stroke-width="0.9" />
<circle cx="591.3" cy="193.1" r="4.7" fill="#fff" stroke="#e8893a" stroke-width="0.9" />
<circle cx="599.2" cy="193.1" r="4.7" fill="#fff" stroke="#e8893a" stroke-width="0.9" />
<circle cx="606.7" cy="193.1" r="4.7" fill="#fff" stroke="#e8893a" stroke-width="0.9" />
<circle cx="614.3" cy="193.1" r="4.7" fill="#fff" stroke="#e8893a" stroke-width="0.9" />
<circle cx="622.1" cy="193.1" r="4.7" fill="#fff" stroke="#e8893a" stroke-width="0.9" />
<circle cx="629.9" cy="193.1" r="4.7" fill="#fff" stroke="#e8893a" stroke-width="0.9" />
</g>
<line x1="288.2" y1="190.4" x2="288.2" y2="322.1" stroke="#333333" stroke-width="1.2" />
<line x1="645.5" y1="190.4" x2="645.5" y2="322.1" stroke="#333333" stroke-width="1.2" />
<line x1="288.2" y1="321.5" x2="645.5" y2="321.5" stroke="#333333" stroke-width="1.2" />
<line x1="285.2" y1="321.5" x2="288.2" y2="321.5" stroke="#333333" stroke-width="1.1" />
<line x1="645.5" y1="321.5" x2="648.5" y2="321.5" stroke="#333333" stroke-width="1.1" />
<line x1="286.2" y1="308.45" x2="288.2" y2="308.45" stroke="#333333" stroke-width="1.1" />
<line x1="645.5" y1="308.45" x2="647.5" y2="308.45" stroke="#333333" stroke-width="1.1" />
<line x1="285.2" y1="295.4" x2="288.2" y2="295.4" stroke="#333333" stroke-width="1.1" />
<line x1="645.5" y1="295.4" x2="648.5" y2="295.4" stroke="#333333" stroke-width="1.1" />
<line x1="286.2" y1="282.35" x2="288.2" y2="282.35" stroke="#333333" stroke-width="1.1" />
<line x1="645.5" y1="282.35" x2="647.5" y2="282.35" stroke="#333333" stroke-width="1.1" />
<line x1="285.2" y1="269.3" x2="288.2" y2="269.3" stroke="#333333" stroke-width="1.1" />
<line x1="645.5" y1="269.3" x2="648.5" y2="269.3" stroke="#333333" stroke-width="1.1" />
<line x1="286.2" y1="256.25" x2="288.2" y2="256.25" stroke="#333333" stroke-width="1.1" />
<line x1="645.5" y1="256.25" x2="647.5" y2="256.25" stroke="#333333" stroke-width="1.1" />
<line x1="285.2" y1="243.2" x2="288.2" y2="243.2" stroke="#333333" stroke-width="1.1" />
<line x1="645.5" y1="243.2" x2="648.5" y2="243.2" stroke="#333333" stroke-width="1.1" />
<line x1="286.2" y1="230.15" x2="288.2" y2="230.15" stroke="#333333" stroke-width="1.1" />
<line x1="645.5" y1="230.15" x2="647.5" y2="230.15" stroke="#333333" stroke-width="1.1" />
<line x1="285.2" y1="217.1" x2="288.2" y2="217.1" stroke="#333333" stroke-width="1.1" />
<line x1="645.5" y1="217.1" x2="648.5" y2="217.1" stroke="#333333" stroke-width="1.1" />
<line x1="286.2" y1="204.05" x2="288.2" y2="204.05" stroke="#333333" stroke-width="1.1" />
<line x1="645.5" y1="204.05" x2="647.5" y2="204.05" stroke="#333333" stroke-width="1.1" />
<line x1="285.2" y1="191" x2="288.2" y2="191" stroke="#333333" stroke-width="1.1" />
<line x1="645.5" y1="191" x2="648.5" y2="191" stroke="#333333" stroke-width="1.1" />
<text x="283.8" y="325.3" font-size="10.8" text-anchor="end" fill="#111111" font-weight="bold" style="" >0</text>
<text x="650.4" y="325.3" font-size="10.8" text-anchor="start" fill="#111111" font-weight="bold" style="" >0</text>
<text x="283.8" y="299.2" font-size="10.8" text-anchor="end" fill="#111111" font-weight="bold" style="" >20</text>
<text x="650.4" y="299.2" font-size="10.8" text-anchor="start" fill="#111111" font-weight="bold" style="" >20</text>
<text x="283.8" y="273.1" font-size="10.8" text-anchor="end" fill="#111111" font-weight="bold" style="" >40</text>
<text x="650.4" y="273.1" font-size="10.8" text-anchor="start" fill="#111111" font-weight="bold" style="" >40</text>
<text x="283.8" y="247" font-size="10.8" text-anchor="end" fill="#111111" font-weight="bold" style="" >60</text>
<text x="650.4" y="247" font-size="10.8" text-anchor="start" fill="#111111" font-weight="bold" style="" >60</text>
<text x="283.8" y="220.9" font-size="10.8" text-anchor="end" fill="#111111" font-weight="bold" style="" >80</text>
<text x="650.4" y="220.9" font-size="10.8" text-anchor="start" fill="#111111" font-weight="bold" style="" >80</text>
<text x="283.8" y="194.8" font-size="10.8" text-anchor="end" fill="#111111" font-weight="bold" style="" >100</text>
<text x="650.4" y="194.8" font-size="10.8" text-anchor="start" fill="#111111" font-weight="bold" style="" >100</text>
<line x1="288.2" y1="321.5" x2="288.2" y2="324.5" stroke="#333333" stroke-width="1.1" />
<line x1="313.72" y1="321.5" x2="313.72" y2="323.5" stroke="#333333" stroke-width="1.1" />
<line x1="339.24" y1="321.5" x2="339.24" y2="324.5" stroke="#333333" stroke-width="1.1" />
<line x1="364.76" y1="321.5" x2="364.76" y2="323.5" stroke="#333333" stroke-width="1.1" />
<line x1="390.28" y1="321.5" x2="390.28" y2="324.5" stroke="#333333" stroke-width="1.1" />
<line x1="415.8" y1="321.5" x2="415.8" y2="323.5" stroke="#333333" stroke-width="1.1" />
<line x1="441.32" y1="321.5" x2="441.32" y2="324.5" stroke="#333333" stroke-width="1.1" />
<line x1="466.84" y1="321.5" x2="466.84" y2="323.5" stroke="#333333" stroke-width="1.1" />
<line x1="492.36" y1="321.5" x2="492.36" y2="324.5" stroke="#333333" stroke-width="1.1" />
<line x1="517.88" y1="321.5" x2="517.88" y2="323.5" stroke="#333333" stroke-width="1.1" />
<line x1="543.4" y1="321.5" x2="543.4" y2="324.5" stroke="#333333" stroke-width="1.1" />
<line x1="568.92" y1="321.5" x2="568.92" y2="323.5" stroke="#333333" stroke-width="1.1" />
<line x1="594.44" y1="321.5" x2="594.44" y2="324.5" stroke="#333333" stroke-width="1.1" />
<line x1="619.96" y1="321.5" x2="619.96" y2="323.5" stroke="#333333" stroke-width="1.1" />
<line x1="645.48" y1="321.5" x2="645.48" y2="324.5" stroke="#333333" stroke-width="1.1" />
<text x="288.2" y="337.4" font-size="11.6" text-anchor="middle" fill="#111111" font-weight="bold" style="" >0</text>
<text x="339.24" y="337.4" font-size="11.6" text-anchor="middle" fill="#111111" font-weight="bold" style="" >100</text>
<text x="390.28" y="337.4" font-size="11.6" text-anchor="middle" fill="#111111" font-weight="bold" style="" >200</text>
<text x="441.32" y="337.4" font-size="11.6" text-anchor="middle" fill="#111111" font-weight="bold" style="" >300</text>
<text x="492.36" y="337.4" font-size="11.6" text-anchor="middle" fill="#111111" font-weight="bold" style="" >400</text>
<text x="543.4" y="337.4" font-size="11.6" text-anchor="middle" fill="#111111" font-weight="bold" style="" >500</text>
<text x="594.44" y="337.4" font-size="11.6" text-anchor="middle" fill="#111111" font-weight="bold" style="" >600</text>
<text x="645.48" y="337.4" font-size="11.6" text-anchor="middle" fill="#111111" font-weight="bold" style="" >700</text>
<text x="0" y="0" transform="translate(410.6 355.8)" font-size="11.2" text-anchor="start" fill="#111111" font-weight="bold" style=""><tspan font-size="11.2" dy="0">Time on stream (min)</tspan></text>
<circle cx="323.7" cy="209.6" r="4.8" fill="#3f78e4" stroke="none" stroke-width="0" />
<text x="0" y="0" transform="translate(337.1 212.6)" font-size="9.4" text-anchor="start" fill="#111111" font-weight="bold" style=""><tspan font-size="9.4" dy="0">CO</tspan><tspan font-size="6.2" dy="2.63">2</tspan><tspan font-size="9.4" dy="-2.63"> conversion</tspan></text>
<circle cx="417.7" cy="209.6" r="4.8" fill="#ee8432" stroke="none" stroke-width="0" />
<text x="0" y="0" transform="translate(431.4 212.6)" font-size="9.4" text-anchor="start" fill="#111111" font-weight="bold" style=""><tspan font-size="9.4" dy="0">C</tspan><tspan font-size="6.2" dy="2.63">3</tspan><tspan font-size="9.4" dy="-2.63">H</tspan><tspan font-size="6.2" dy="2.63">8</tspan><tspan font-size="9.4" dy="-2.63"> conversion</tspan></text>
<circle cx="514.9" cy="209.6" r="4.6" fill="#fff" stroke="#e8893a" stroke-width="1.2" />
<text x="0" y="0" transform="translate(527.9 212.6)" font-size="9.4" text-anchor="start" fill="#111111" font-weight="bold" style=""><tspan font-size="9.4" dy="0">C</tspan><tspan font-size="6.2" dy="2.63">3</tspan><tspan font-size="9.4" dy="-2.63">H</tspan><tspan font-size="6.2" dy="2.63">6</tspan><tspan font-size="9.4" dy="-2.63"> Selectivity in C</tspan><tspan font-size="6.2" dy="2.63">x</tspan><tspan font-size="9.4" dy="-2.63">H</tspan><tspan font-size="6.2" dy="2.63">y</tspan></text>
<text x="0" y="0" transform="translate(309.6 247.5)" font-size="14" text-anchor="start" fill="#111111" font-weight="bold" style="font-style:italic;"><tspan font-size="14" dy="0">CO</tspan><tspan font-size="9.5" dy="3.92">2</tspan><tspan font-size="14" dy="-3.92">-PDH</tspan></text>
<text x="0" y="0" transform="translate(435.4 247.5)" font-size="14" text-anchor="start" fill="#111111" font-weight="bold" style="font-style:italic;"><tspan font-size="14" dy="0">CO</tspan><tspan font-size="9.5" dy="3.92">2</tspan><tspan font-size="14" dy="-3.92">-PDH</tspan></text>
<text x="0" y="0" transform="translate(565.4 247.5)" font-size="14" text-anchor="start" fill="#111111" font-weight="bold" style="font-style:italic;"><tspan font-size="14" dy="0">CO</tspan><tspan font-size="9.5" dy="3.92">2</tspan><tspan font-size="14" dy="-3.92">-PDH</tspan></text>
<text x="0" y="0" transform="translate(395.4 247.5)" font-size="13.8" text-anchor="start" fill="#111111" font-weight="bold" style="font-style:italic;"><tspan font-size="13.8" dy="0">air</tspan></text>
<text x="0" y="0" transform="translate(520.2 247.5)" font-size="13.8" text-anchor="start" fill="#111111" font-weight="bold" style="font-style:italic;"><tspan font-size="13.8" dy="0">air</tspan></text>
<text x="0" y="0" transform="translate(579.9 258.9)" font-size="8.8" text-anchor="start" fill="#e8853e" font-weight="bold" style=""><tspan font-size="8.8" dy="0">C</tspan><tspan font-size="5.81" dy="2.46">3</tspan><tspan font-size="8.8" dy="-2.46">H</tspan><tspan font-size="5.81" dy="2.46">8</tspan><tspan font-size="8.8" dy="-2.46"> Eq. Conv.</tspan></text>
<text x="0" y="0" transform="translate(255.9 329) rotate(-90)" font-size="11.05" text-anchor="start" fill="#111111" font-weight="bold" style=""><tspan font-size="12.2" dy="0">C</tspan><tspan font-size="7.81" dy="3.66">3</tspan><tspan font-size="12.2" dy="-3.66">H</tspan><tspan font-size="7.81" dy="3.66">8</tspan><tspan font-size="11.05" dy="-3.66"> &amp; CO</tspan><tspan font-size="7.29" dy="3.09">2</tspan><tspan font-size="11.05" dy="-3.09"> Conversion (%)</tspan></text>
<text x="0" y="0" transform="translate(679.8 329.5) rotate(-90)" font-size="11.3" text-anchor="start" fill="#111111" font-weight="bold" style=""><tspan font-size="11.3" dy="0">C</tspan><tspan font-size="7.46" dy="3.16">3</tspan><tspan font-size="11.3" dy="-3.16">H</tspan><tspan font-size="7.46" dy="3.16">6</tspan><tspan font-size="11.3" dy="-3.16"> Selectivity in C</tspan><tspan font-size="7.46" dy="3.16">x</tspan><tspan font-size="11.3" dy="-3.16">H</tspan><tspan font-size="7.46" dy="3.16">y</tspan><tspan font-size="11.3" dy="-3.16"> (%)</tspan></text>
<text x="230.6" y="203.6" font-size="18" text-anchor="start" fill="#111111" font-weight="bold" style="" >e</text>
</svg></body></html>
